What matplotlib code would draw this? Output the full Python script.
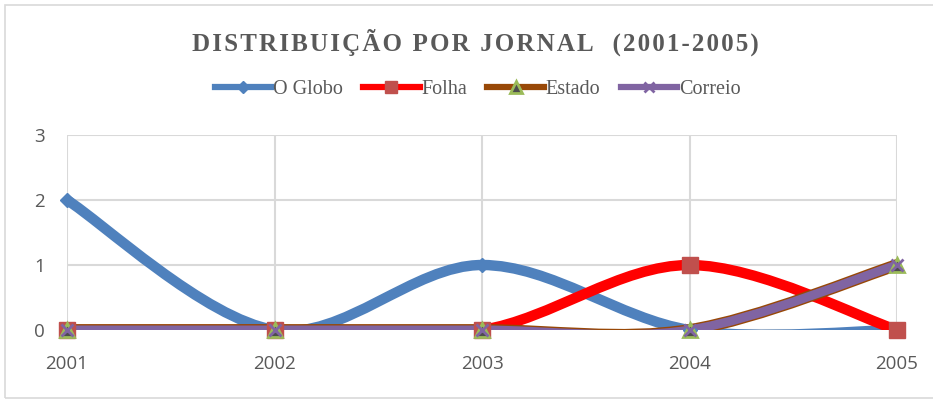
import matplotlib.pyplot as plt
from matplotlib.path import Path
from matplotlib.patches import PathPatch, Rectangle
from matplotlib.lines import Line2D

# Data
years = [2001, 2002, 2003, 2004, 2005]
o_globo = [2, 0, 1, 0, 0]
folha = [0, 0, 0, 1, 0]
estado = [0, 0, 0, 0, 1]
correio = [0, 0, 0, 0, 1]
labels = ['O Globo', 'Folha', 'Estado', 'Correio']

title = 'DISTRIBUIÇÃO POR JORNAL  (2001-2005)'


def smooth_path(x, y):
    """Excel-like smoothed line: Catmull-Rom segments as cubic Bezier curves."""
    pts = list(zip(x, y))
    verts = [pts[0]]
    codes = [Path.MOVETO]
    n = len(pts)
    for i in range(n - 1):
        p0 = pts[i - 1] if i > 0 else pts[i]
        p1 = pts[i]
        p2 = pts[i + 1]
        p3 = pts[i + 2] if i + 2 < n else pts[i + 1]
        c1 = (p1[0] + (p2[0] - p0[0]) / 6, p1[1] + (p2[1] - p0[1]) / 6)
        c2 = (p2[0] - (p3[0] - p1[0]) / 6, p2[1] - (p3[1] - p1[1]) / 6)
        verts += [c1, c2, p2]
        codes += [Path.CURVE4] * 3
    return Path(verts, codes)


styles = [
    dict(color='#4F81BD', lw=7.5, marker='D', ms=7, mfc='#4F81BD', mec='#4F81BD', mew=1),
    dict(color='#FF0000', lw=7.5, marker='s', ms=11, mfc='#C0504D', mec='#C0504D', mew=1),
    dict(color='#984807', lw=8.5, marker='^', ms=10, mfc='#4D4D4D', mec='#9BBB59', mew=2),
    dict(color='#8064A2', lw=6.5, marker='x', ms=9, mfc='#8064A2', mec='#8064A2', mew=2),
]
series = [o_globo, folha, estado, correio]

fig = plt.figure(figsize=(9.33, 4.03), dpi=100)
fig.patches.append(Rectangle((5 / 933, 5 / 403), 1.2, 393 / 403, transform=fig.transFigure,
                             fill=False, edgecolor='#D9D9D9', lw=1.2))

ax = fig.add_axes([67 / 933, 73 / 403, 830 / 933, 195 / 403])

handles = []
for vals, st, lab in zip(series, styles, labels):
    patch = PathPatch(smooth_path(years, vals), fill=False, edgecolor=st['color'],
                      lw=st['lw'], capstyle='round', joinstyle='round', zorder=3)
    ax.add_patch(patch)
    ax.plot(years, vals, linestyle='none', marker=st['marker'], ms=st['ms'],
            mfc=st['mfc'], mec=st['mec'], mew=st['mew'], clip_on=False, zorder=4)
    handles.append(Line2D([], [], color=st['color'], lw=4.5, marker=st['marker'],
                          ms=st['ms'] * 0.85, mfc=st['mfc'], mec=st['mec'], mew=st['mew'],
                          label=lab))

ax.set_xlim(2001, 2005)
ax.set_ylim(0, 3)
ax.set_xticks(years)
ax.set_yticks([0, 1, 2, 3])
ax.grid(True, color='#D9D9D9', lw=1.5)
ax.set_axisbelow(True)
for s in ax.spines.values():
    s.set_visible(False)
ax.tick_params(length=0, labelsize=13.5, labelcolor='#595959')
ax.tick_params(axis='x', pad=18)
ax.tick_params(axis='y', pad=16)
for t in ax.get_xticklabels() + ax.get_yticklabels():
    t.set_family('Open Sans')

fig.text(0.51, 0.895, '\u200a'.join(title), ha='center', va='center',
         fontsize=18, fontweight='bold', color='#595959',
         family=['Liberation Serif', 'DejaVu Serif'])

fig.legend(handles=handles, loc='center', bbox_to_anchor=(0.512, 0.777), ncol=4,
           frameon=False, handlelength=2.8, handletextpad=0.1, columnspacing=1.0,
           prop={'family': 'Liberation Serif', 'size': 14.5}, labelcolor='#595959')

fig.savefig('out.png', dpi=100)
